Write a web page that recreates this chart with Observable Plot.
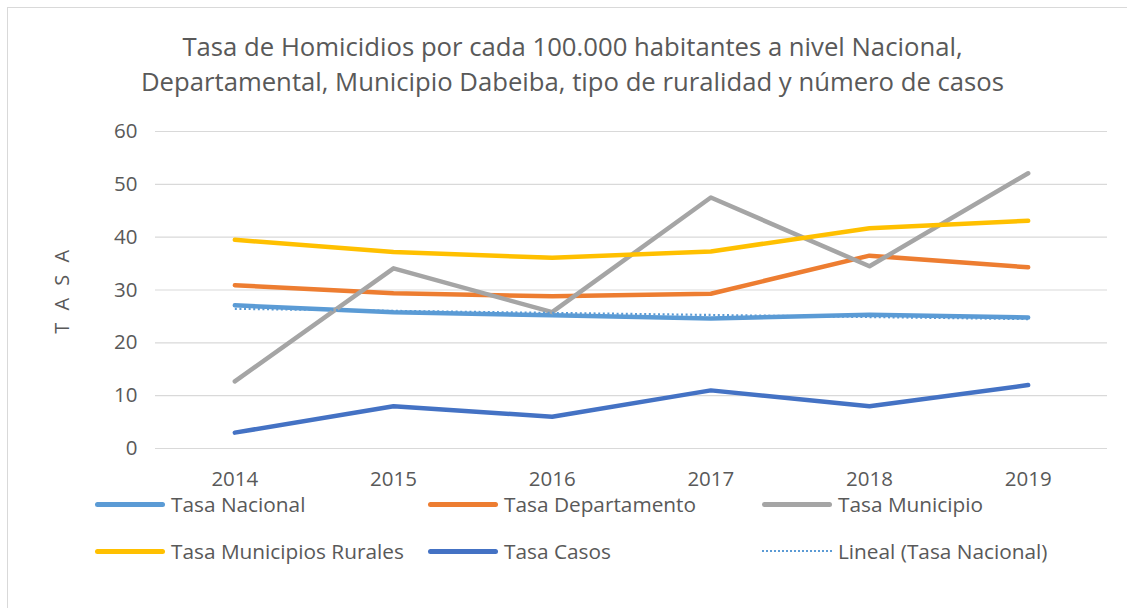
<!DOCTYPE html>
<html>
<head>
<meta charset="utf-8">
<script src="https://cdn.jsdelivr.net/npm/d3@7"></script>
<script src="https://cdn.jsdelivr.net/npm/@observablehq/plot@0.6"></script>
<style>
  html, body { margin: 0; padding: 0; background: #fff; }
  body { width: 1127px; height: 608px; position: relative; overflow: hidden; font-family: "Open Sans", sans-serif; color: #595959; }
  #frame { position: absolute; left: 7px; top: 7px; width: 1140px; height: 640px; border: 1px solid #d9d9d9; box-sizing: border-box; }
  #title { position: absolute; left: 0; width: 1145px; top: 29px; text-align: center; font-size: 25.7px; line-height: 35px; color: #595959; white-space: nowrap; }
  #chart { position: absolute; left: 0; top: 110px; }
  .leg { position: absolute; display: flex; align-items: center; font-size: 20.8px; color: #595959; white-space: nowrap; }
  .sw { width: 70px; height: 0; margin-right: 6px; }
</style>
</head>
<body>
<div id="frame"></div>
<div id="title">Tasa de Homicidios por cada 100.000 habitantes a nivel Nacional,<br>Departamental, Municipio Dabeiba, tipo de ruralidad y número de casos</div>
<div id="chart"></div>
<div id="legend"></div>
<script>
const years = [2014, 2015, 2016, 2017, 2018, 2019];
const tasaNacional = [27.1, 25.8, 25.2, 24.6, 25.3, 24.8];
const tasaDepartamento = [30.9, 29.4, 28.8, 29.3, 36.5, 34.3];
const tasaMunicipio = [12.7, 34.1, 25.8, 47.5, 34.5, 52.1];
const tasaRurales = [39.5, 37.2, 36.1, 37.3, 41.7, 43.1];
const tasaCasos = [3, 8, 6, 11, 8, 12];
const seriesNames = ["Tasa Nacional", "Tasa Departamento", "Tasa Municipio", "Tasa Municipios Rurales", "Tasa Casos"];
const seriesColors = ["#5B9BD5", "#ED7D31", "#A5A5A5", "#FFC000", "#4472C4"];
const trendName = "Lineal (Tasa Nacional)";
const yTicks = [0, 10, 20, 30, 40, 50, 60];
const yLabel = "T A S A";

const seriesValues = [tasaNacional, tasaDepartamento, tasaMunicipio, tasaRurales, tasaCasos];
const data = [];
seriesNames.forEach((name, i) => {
  years.forEach((yr, j) => data.push({series: name, year: yr, value: seriesValues[i][j]}));
});
const nacional = years.map((yr, j) => ({year: yr, value: tasaNacional[j]}));

const plot = Plot.plot({
  width: 1127,
  height: 390,
  marginLeft: 155,
  marginRight: 20,
  marginTop: 21,
  marginBottom: 52,
  style: {fontFamily: "Open Sans, sans-serif", fontSize: "20.5px", color: "#595959", background: "transparent"},
  x: {type: "linear", domain: [2013.5, 2019.5], label: null},
  y: {domain: [0, 60], label: null},
  color: {domain: seriesNames, range: seriesColors},
  marks: [
    Plot.gridY(yTicks, {stroke: "#d9d9d9", strokeOpacity: 1, strokeWidth: 1.2}),
    Plot.axisX({ticks: years, tickFormat: d => String(d), tickSize: 0, tickPadding: 23, fill: "#595959", fontSize: 20.5, label: null}),
    Plot.axisY({ticks: yTicks, tickSize: 0, tickPadding: 18, fill: "#595959", fontSize: 20.5, label: null}),
    Plot.lineY(data, {x: "year", y: "value", z: "series", stroke: "series", strokeWidth: 4.5, strokeLinecap: "round", strokeLinejoin: "round"}),
    Plot.linearRegressionY(nacional, {x: "year", y: "value", ci: 0, stroke: "#5B9BD5", strokeWidth: 2.2, strokeDasharray: "2,2.6", strokeLinecap: "butt"}),
    Plot.text([yLabel], {frameAnchor: "left", textAnchor: "middle", dx: -93, rotate: -90, fontSize: 20, fill: "#595959", className: "ylab"})
  ]
});
document.getElementById("chart").appendChild(plot);
plot.querySelectorAll(".ylab text").forEach(t => { t.style.letterSpacing = "3.5px"; });

// Legend
const legend = document.getElementById("legend");
const legItems = seriesNames.map((n, i) => ({name: n, color: seriesColors[i], dotted: false}));
legItems.push({name: trendName, color: "#5B9BD5", dotted: true});
const cols = [95, 428, 762];
const rows = [504, 551];
legItems.forEach((it, k) => {
  const d = document.createElement("div");
  d.className = "leg";
  d.style.left = cols[k % 3] + "px";
  d.style.top = (rows[Math.floor(k / 3)] - 14) + "px";
  d.style.height = "28px";
  const sw = document.createElement("div");
  sw.className = "sw";
  if (it.dotted) {
    sw.style.borderTop = "2.5px dotted " + it.color;
  } else {
    sw.style.height = "5px";
    sw.style.borderRadius = "3px";
    sw.style.background = it.color;
  }
  d.appendChild(sw);
  const t = document.createElement("span");
  t.textContent = it.name;
  d.appendChild(t);
  legend.appendChild(d);
});
</script>
</body>
</html>
